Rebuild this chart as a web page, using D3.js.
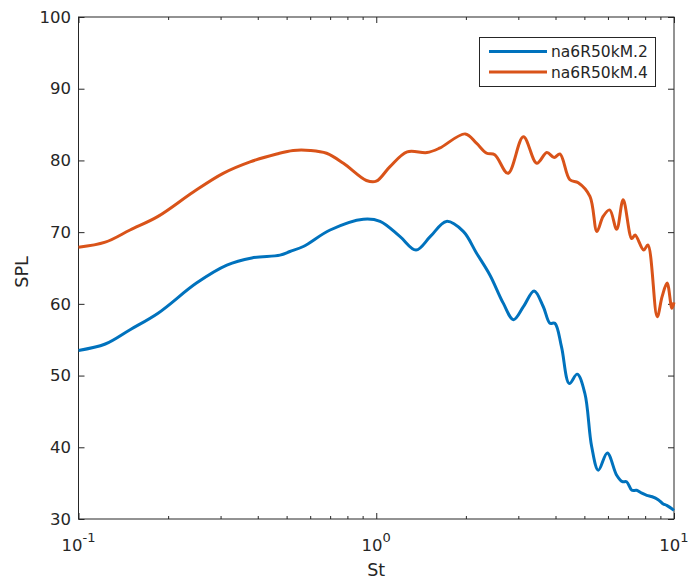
<!DOCTYPE html>
<html>
<head>
<meta charset="utf-8">
<script src="https://cdn.jsdelivr.net/npm/d3@7"></script>
<style>
  body { margin: 0; background: #fff; }
  svg { display: block; font-family: "DejaVu Sans", sans-serif; }
</style>
</head>
<body>
<svg id="chart" width="691" height="584"></svg>
<script>
// series names
const seriesNames = ["na6R50kM.2", "na6R50kM.4"];

// na6R50kM.2 (St, SPL)
const stBlue = [0.100, 0.123, 0.149, 0.185, 0.249, 0.315, 0.382, 0.475, 0.513, 0.569, 0.700, 0.905,
    1.03, 1.20, 1.36, 1.52, 1.72, 1.96, 2.17, 2.41, 2.67, 2.89, 3.12, 3.39, 3.64, 3.83, 3.98,
    4.19, 4.45, 4.73, 5.02, 5.29, 5.57, 5.97, 6.42, 6.71, 6.93, 7.22, 7.49, 7.80, 8.10, 8.45, 8.85, 9.20, 9.45, 10.0];
const splBlue = [53.5, 54.4, 56.4, 58.7, 62.9, 65.4, 66.4, 66.8, 67.3, 68.0, 70.3, 71.8,
    71.5, 69.4, 67.5, 69.4, 71.5, 70.1, 67.1, 64.0, 60.1, 57.8, 59.6, 61.8, 59.6, 57.3, 57.3,
    54.0, 48.9, 50.2, 47.5, 40.1, 36.8, 39.2, 36.1, 35.2, 35.2, 34.0, 34.0, 33.6, 33.3, 33.1, 32.7, 32.1, 31.9, 31.2];

// na6R50kM.4 (St, SPL)
const stOrange = [0.100, 0.123, 0.149, 0.185, 0.243, 0.306, 0.377, 0.463, 0.526, 0.600, 0.681, 0.776,
    0.927, 1.00, 1.11, 1.27, 1.48, 1.63, 1.99, 2.17, 2.35, 2.50, 2.77, 3.12, 3.46, 3.74, 3.96,
    4.14, 4.47, 4.77, 5.22, 5.51, 5.78, 6.08, 6.42, 6.75, 7.21, 7.40, 7.91, 8.17, 8.78, 9.12,
    9.48, 9.84, 10.0];
const splOrange = [67.9, 68.6, 70.3, 72.2, 75.6, 78.2, 79.8, 80.9, 81.4, 81.4, 81.0, 79.6,
    77.2, 77.1, 79.1, 81.2, 81.1, 81.7, 83.7, 82.4, 81.0, 80.8, 78.2, 83.3, 79.6, 81.1, 80.4,
    80.9, 77.3, 76.9, 75.0, 70.1, 72.2, 73.1, 70.4, 74.5, 69.1, 69.6, 67.5, 68.2, 58.2, 61.0,
    62.9, 59.4, 60.2];

// axis ticks
const yTicks = [30, 40, 50, 60, 70, 80, 90, 100];
const xMajor = [0.1, 1, 10];
const xExponents = ["-1", "0", "1"];
const xMinor = [0.2, 0.3, 0.4, 0.5, 0.6, 0.7, 0.8, 0.9, 2, 3, 4, 5, 6, 7, 8, 9];

const colors = ["#0072BD", "#D95319"];
const axisColor = "#262626";

const plotLeft = 78.5, plotTop = 17, plotRight = 674, plotBottom = 519;

const svg = d3.select("#chart");

const x = d3.scaleLog().domain([0.1, 10]).range([plotLeft, plotRight]);
const y = d3.scaleLinear().domain([30, 100]).range([plotBottom, plotTop]);

const series = [
    stBlue.map((s, i) => ({ st: s, spl: splBlue[i] })),
    stOrange.map((s, i) => ({ st: s, spl: splOrange[i] }))
];

// Ticks on all four sides, pointing inward
function styleAxis(g) {
    g.select(".domain").remove();
    g.selectAll("line").attr("stroke", axisColor);
    g.selectAll("text").attr("fill", axisColor);
}

svg.append("g")
    .attr("transform", `translate(${plotLeft},0)`)
    .call(d3.axisLeft(y).tickValues(yTicks).tickSizeInner(-6).tickSizeOuter(0).tickPadding(7.5))
    .call(styleAxis)
    .selectAll("text").attr("font-size", 16.5).attr("font-family", "DejaVu Sans");

svg.append("g")
    .attr("transform", `translate(${plotRight},0)`)
    .call(d3.axisRight(y).tickValues(yTicks).tickSizeInner(-6).tickSizeOuter(0).tickFormat(""))
    .call(styleAxis);

[[plotBottom, d3.axisBottom], [plotTop, d3.axisTop]].forEach(([pos, axisFn]) => {
    svg.append("g")
        .attr("transform", `translate(0,${pos})`)
        .call(axisFn(x).tickValues(xMajor).tickSizeInner(-6).tickSizeOuter(0).tickFormat(""))
        .call(styleAxis);
    svg.append("g")
        .attr("transform", `translate(0,${pos})`)
        .call(axisFn(x).tickValues(xMinor).tickSizeInner(-3).tickSizeOuter(0).tickFormat(""))
        .call(styleAxis);
});

// x tick labels as 10^n
xMajor.forEach((v, i) => {
    const t = svg.append("text")
        .attr("x", x(v))
        .attr("y", 551)
        .attr("text-anchor", "middle")
        .attr("fill", axisColor)
        .attr("font-size", 16.5);
    t.append("tspan").text("10");
    t.append("tspan").attr("dy", -9).attr("font-size", 13).text(xExponents[i]);
});

// box
svg.append("rect")
    .attr("x", plotLeft).attr("y", plotTop)
    .attr("width", plotRight - plotLeft).attr("height", plotBottom - plotTop)
    .attr("fill", "none")
    .attr("stroke", axisColor)
    .attr("stroke-width", 1);

// lines
const line = d3.line()
    .x(d => x(d.st))
    .y(d => y(d.spl))
    .curve(d3.curveCatmullRom.alpha(0.5));

svg.append("g")
    .selectAll("path")
    .data(series)
    .join("path")
    .attr("d", line)
    .attr("fill", "none")
    .attr("stroke", (d, i) => colors[i])
    .attr("stroke-width", 3)
    .attr("stroke-linejoin", "round");

// axis labels
svg.append("text")
    .attr("x", (plotLeft + plotRight) / 2)
    .attr("y", 576)
    .attr("text-anchor", "middle")
    .attr("fill", axisColor)
    .attr("font-size", 17.5)
    .text("St");

svg.append("text")
    .attr("transform", `translate(28,${(plotTop + plotBottom) / 2 + 4}) rotate(-90)`)
    .attr("text-anchor", "middle")
    .attr("fill", axisColor)
    .attr("font-size", 17.5)
    .text("SPL");

// legend
const legend = svg.append("g");
legend.append("rect")
    .attr("x", 479.5).attr("y", 37.5)
    .attr("width", 176).attr("height", 49)
    .attr("fill", "#fff")
    .attr("stroke", axisColor)
    .attr("stroke-width", 1);

seriesNames.forEach((name, i) => {
    const ly = 51.5 + i * 20.5;
    legend.append("line")
        .attr("x1", 489).attr("x2", 547)
        .attr("y1", ly).attr("y2", ly)
        .attr("stroke", colors[i])
        .attr("stroke-width", 3);
    legend.append("text")
        .attr("x", 551)
        .attr("y", ly + 5.5)
        .attr("fill", axisColor)
        .attr("font-size", 15.5)
        .text(name);
});
</script>
</body>
</html>
